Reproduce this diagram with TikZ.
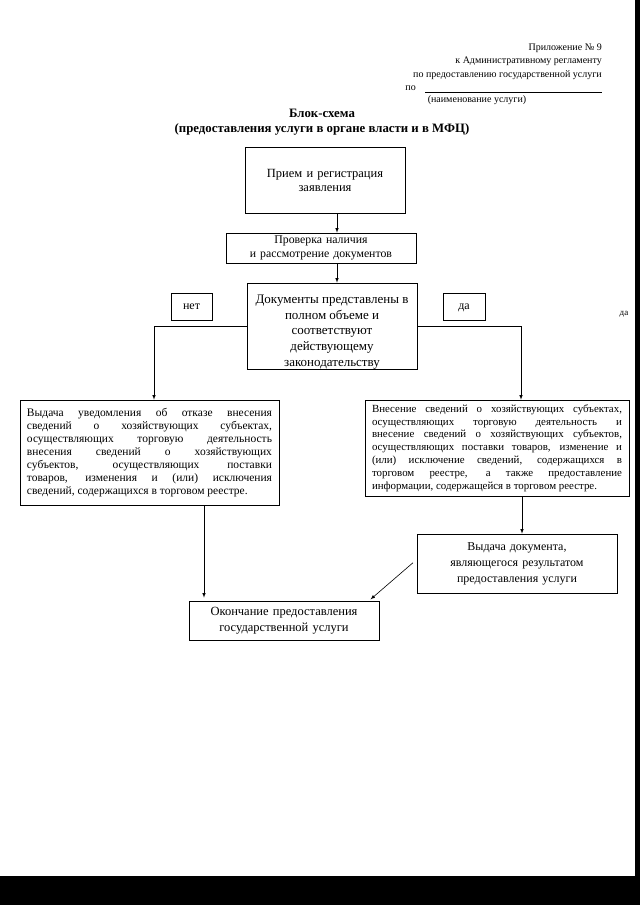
\documentclass[tikz,border=0pt]{standalone}
\usepackage{fontspec}
\setmainfont{Liberation Serif}
\usetikzlibrary{arrows}

\begin{document}
\begin{tikzpicture}[x=1pt,y=-1pt]
\tikzset{every node/.style={font=\fontsize{12}{14}\selectfont}}
\tikzset{block/.style={draw,line width=0.6pt,inner xsep=7pt,inner ysep=0pt,align=center}}
\tikzset{textblock/.style={block,align=justify,text width=245pt}}
\tikzset{link/.style={line width=0.6pt,-latex}}
\tikzset{header/.style={anchor=east,inner sep=0pt,font=\fontsize{10}{12}\selectfont}}

\useasboundingbox (0,0) rectangle (640,905);
\fill (635,0) rectangle (640,905);
\fill (0,876) rectangle (640,905);

\node[header] (app) at (602,48) {Приложение № 9};
\node[header] (reglament) at (602,61) {к Административному регламенту};
\node[header] (service) at (602,75) {по предоставлению государственной услуги};
\node[header] (po) at (416,88) {по};
\draw[line width=0.5pt] (425,92) -- (602,92);
\node[header,anchor=center] (name) at (477,100) {(наименование услуги)};

\node[align=center,font=\bfseries\fontsize{12.8}{15}\selectfont] (title) at (322,122)
  {Блок-схема\\(предоставления услуги в органе власти и в МФЦ)};

\node[block,text width=146pt,minimum height=66pt,font=\fontsize{12.5}{14}\selectfont] (reg) at (325,180)
  {Прием и регистрация\\заявления};
\node[block,text width=176pt,minimum height=30pt,font=\fontsize{11.8}{14}\selectfont] (check) at (321,248)
  {Проверка наличия\\и рассмотрение документов};
\node[block,minimum width=170pt,minimum height=86pt] (docs) at (332,326) {};
\node[align=center,font=\fontsize{13}{15.6}\selectfont] (docstext) at ([yshift=-6pt]docs.center)
  {Документы представлены в\\полном объеме и\\соответствуют\\действующему\\законодательству};
\node[block,inner xsep=0pt,minimum width=41pt,minimum height=27pt,text height=8pt,text depth=2pt] (no) at (191.5,306.5) {нет};
\node[block,inner xsep=0pt,minimum width=42pt,minimum height=27pt,text height=8pt,text depth=2pt] (yes) at (464,306.5) {да};
\node[font=\fontsize{9}{10}\selectfont] (yes2) at (624,314) {да};

\node[textblock,minimum height=105pt,font=\fontsize{11.5}{13}\selectfont] (refuse) at (149.5,452.5)
  {Выдача уведомления об отказе внесения\linebreak
   сведений о хозяйствующих субъектах,\linebreak
   осуществляющих торговую деятельность\linebreak
   внесения сведений о хозяйствующих\linebreak
   субъектов, осуществляющих поставки\linebreak
   товаров, изменения и (или) исключения\linebreak
   сведений, содержащихся в торговом реестре.};
\node[textblock,text width=250pt,minimum height=96pt,font=\fontsize{10.9}{12.8}\selectfont] (grant) at (497,448)
  {Внесение сведений о хозяйствующих субъектах,\linebreak
   осуществляющих торговую деятельность и\linebreak
   внесение сведений о хозяйствующих субъектов,\linebreak
   осуществляющих поставки товаров, изменение и\linebreak
   (или) исключение сведений, содержащихся в\linebreak
   торговом реестре, а также предоставление\linebreak
   информации, содержащейся в торговом реестре.};

\node[block,text width=186pt,minimum height=59pt,font=\fontsize{12}{16}\selectfont] (issue) at (517,563.5)
  {Выдача документа,\\являющегося результатом\\предоставления услуги};
\node[block,text width=176pt,minimum height=39pt,font=\fontsize{12.5}{16}\selectfont] (finish) at (284,620.5)
  {Окончание предоставления\\государственной услуги};

\draw[link] ([xshift=12pt]reg.south) -- ([xshift=12pt]reg.south |- check.north);
\draw[link] ([xshift=16pt]check.south) -- ([xshift=16pt]check.south |- docs.north);
\draw[link] (docs.west) -| ([xshift=4.5pt]refuse.north);
\draw[link] (docs.east) -| ([xshift=24pt]grant.north);
\draw[link] ([xshift=25pt]grant.south) -- ([xshift=25pt]grant.south |- issue.north);
\draw[link,shorten >=3pt] ([xshift=54.5pt]refuse.south) -- ([xshift=54.5pt]refuse.south |- finish.north);
\draw[link,shorten <=5pt,shorten >=2pt] ([yshift=4pt]issue.west) -- ([xshift=85pt]finish.north);

\end{tikzpicture}
\end{document}
